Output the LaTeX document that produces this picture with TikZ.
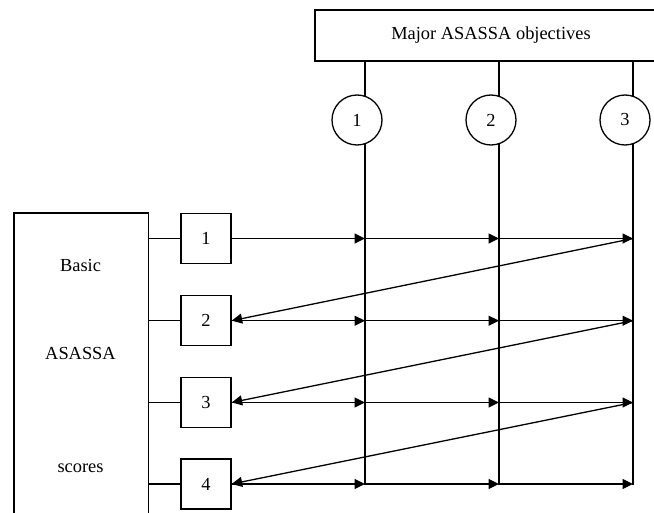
\documentclass[tikz,border=0pt]{standalone}
\usepackage{fontspec}
\setmainfont{Liberation Serif}
\usetikzlibrary{arrows.meta}
\begin{document}
\begin{tikzpicture}[x=1pt,y=-1pt,line width=1.3pt,
  txt/.style={font=\fontsize{18.4}{22}\selectfont},
  sbox/.style={draw,txt,inner sep=0pt,minimum width=50pt,minimum height=50pt},
  circ/.style={draw,circle,fill=white,txt,inner sep=0pt,minimum size=50pt},
  arr/.style={-{Triangle[length=10.5pt,width=10pt]}}]
\useasboundingbox (0,0) rectangle (654,513);
\clip (0,0) rectangle (654,513);
% top box
\node[draw,txt,minimum width=352pt,minimum height=51pt,inner sep=0pt] (top) at (491,35.5) {Major ASASSA objectives};
% vertical lines
\coordinate (v1t) at (365,61);
\coordinate (v2t) at (499,61);
\coordinate (v3t) at (633,61);
\coordinate (v1b) at (365,485);
\coordinate (v2b) at (499,485);
\coordinate (v3b) at (633,485);
\draw (v1t) -- (v1b);
\draw (v2t) -- (v2b);
\draw (v3t) -- (v3b);
% circles
\node[circ] (c1) at (357,120) {1};
\node[circ] (c2) at (491,120) {2};
\node[circ] (c3) at (625,120) {3};
% big box
\node[draw,minimum width=134.4pt,minimum height=330pt,inner sep=0pt,anchor=north west] (big) at (13.3,212.3) {};
\node[txt] (basic) at (80.5,265) {Basic};
\node[txt] (asassa) at (80.5,353) {ASASSA};
\node[txt] (scores) at (80.5,468) {scores};
% small boxes
\node[sbox] (b1) at (206,238.5) {1};
\node[sbox] (b2) at (206,320.7) {2};
\node[sbox] (b3) at (206,402.5) {3};
\node[sbox] (b4) at (206,484) {4};
% links from big box
\foreach \b in {b1,b2,b3,b4}{
  \draw (big.east |- \b) -- (\b.west);
  \draw[arr] (\b.east) -- (v1t |- \b);
  \draw[arr] (v1t |- \b) -- (v2t |- \b);
  \draw[arr] (v2t |- \b) -- (v3t |- \b);
}
% diagonals
\draw[arr] (v3t |- b1) -- (b2.east);
\draw[arr] (v3t |- b2) -- (b3.east);
\draw[arr] (v3t |- b3) -- (b4.east);
\end{tikzpicture}
\end{document}
